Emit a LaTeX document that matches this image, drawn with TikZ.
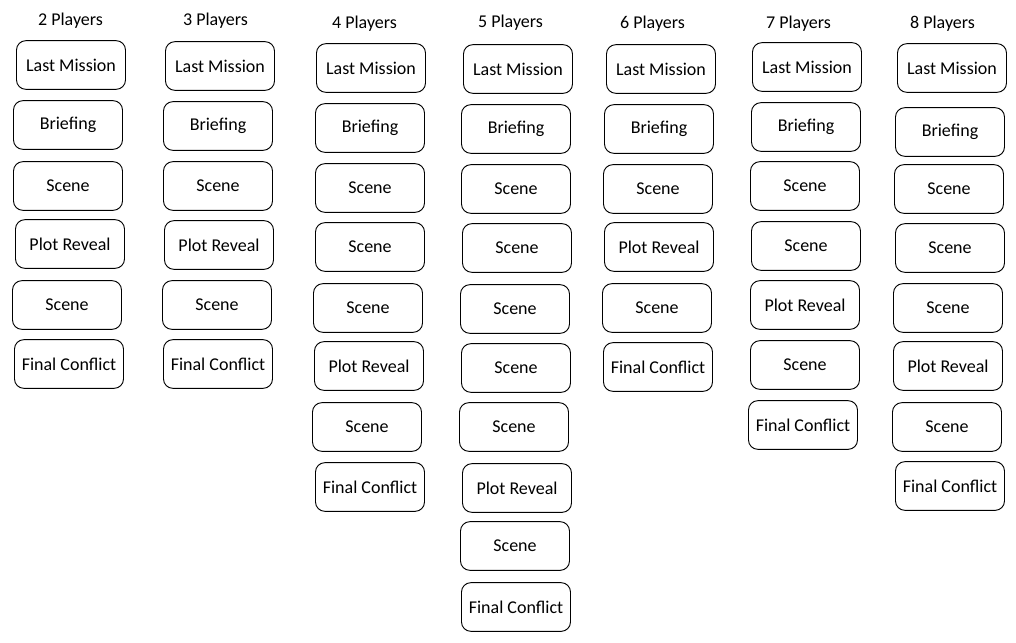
\documentclass[tikz,border=0pt]{standalone}
\usepackage{fontspec}
\setmainfont{Carlito}
\begin{document}
\begin{tikzpicture}[x=0.75pt,y=-0.75pt,
  box/.style={draw,line width=0.7pt,rounded corners=7pt,minimum width=81.75pt,minimum height=36.5pt,inner sep=0pt,font=\fontsize{13.5}{16}\selectfont},
  title/.style={inner sep=0pt,font=\fontsize{13.5}{16}\selectfont}]
\useasboundingbox (0,0) rectangle (1016,642);
% column 1
\node[title] (t1) at (70.5,21) {2 Players};
\node[box] (a1) at (71,65) {Last Mission};
\node[box] (a2) at (68,125) {Briefing};
\node[box] (a3) at (68,186) {Scene};
\node[box] (a4) at (70,244) {Plot Reveal};
\node[box] (a5) at (67,305) {Scene};
\node[box] (a6) at (69,364) {Final Conflict};
% column 2
\node[title] (t2) at (215.5,21) {3 Players};
\node[box] (b1) at (220,66) {Last Mission};
\node[box] (b2) at (218,126) {Briefing};
\node[box] (b3) at (218,186) {Scene};
\node[box] (b4) at (219,245) {Plot Reveal};
\node[box] (b5) at (217,305) {Scene};
\node[box] (b6) at (218,364) {Final Conflict};
% column 3
\node[title] (t3) at (364.5,24) {4 Players};
\node[box] (c1) at (371,68) {Last Mission};
\node[box] (c2) at (370,128) {Briefing};
\node[box] (c3) at (370,188) {Scene};
\node[box] (c4) at (370,247) {Scene};
\node[box] (c5) at (368,308) {Scene};
\node[box] (c6) at (369,366) {Plot Reveal};
\node[box] (c7) at (367,427) {Scene};
\node[box] (c8) at (370,487) {Final Conflict};
% column 4
\node[title] (t4) at (510.5,23) {5 Players};
\node[box] (d1) at (518,69) {Last Mission};
\node[box] (d2) at (516,129) {Briefing};
\node[box] (d3) at (516,189) {Scene};
\node[box] (d4) at (517,248) {Scene};
\node[box] (d5) at (515,309) {Scene};
\node[box] (d6) at (516,368) {Scene};
\node[box] (d7) at (514,427) {Scene};
\node[box] (d8) at (517,488) {Plot Reveal};
\node[box] (d9) at (515,546) {Scene};
\node[box] (d10) at (516,607) {Final Conflict};
% column 5
\node[title] (t5) at (652.5,24) {6 Players};
\node[box] (e1) at (661,69) {Last Mission};
\node[box] (e2) at (659,129) {Briefing};
\node[box] (e3) at (658,189) {Scene};
\node[box] (e4) at (659,247) {Plot Reveal};
\node[box] (e5) at (657,308) {Scene};
\node[box] (e6) at (658,367) {Final Conflict};
% column 6
\node[title] (t6) at (798.5,24) {7 Players};
\node[box] (f1) at (807,67) {Last Mission};
\node[box] (f2) at (806,127) {Briefing};
\node[box] (f3) at (805,186) {Scene};
\node[box] (f4) at (806,246) {Scene};
\node[box] (f5) at (805,305) {Plot Reveal};
\node[box] (f6) at (805,365) {Scene};
\node[box] (f7) at (803,425) {Final Conflict};
% column 7
\node[title] (t7) at (942.5,24) {8 Players};
\node[box] (g1) at (952,68) {Last Mission};
\node[box] (g2) at (950,132) {Briefing};
\node[box] (g3) at (949,189) {Scene};
\node[box] (g4) at (950,248) {Scene};
\node[box] (g5) at (948,308) {Scene};
\node[box] (g6) at (948,366) {Plot Reveal};
\node[box] (g7) at (947,427) {Scene};
\node[box] (g8) at (950,486) {Final Conflict};
\end{tikzpicture}
\end{document}
